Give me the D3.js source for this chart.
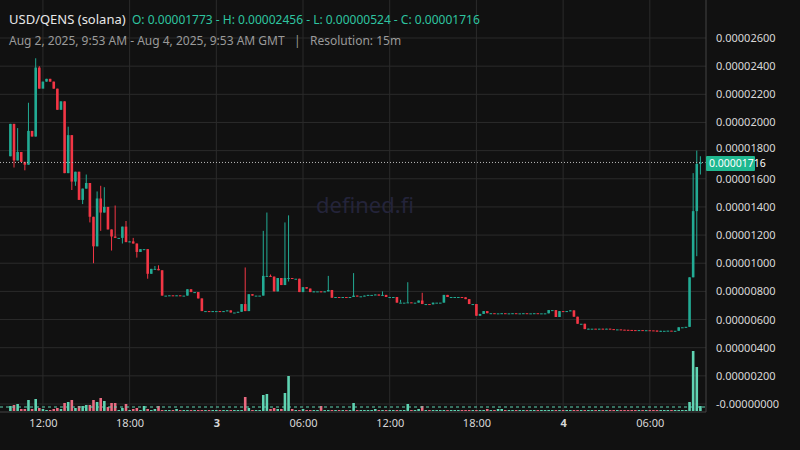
<!DOCTYPE html>
<html><head><meta charset="utf-8">
<script src="https://cdn.jsdelivr.net/npm/d3@7"></script>
<style>body{margin:0;background:#111111;}svg{display:block;font-family:"Noto Sans",sans-serif;}</style>
</head><body><div id="chart"></div>
<script>
// close prices in units of 1e-6, one per 15m candle, starting Aug 2 09:45 GMT
var firstOpen = 17.6;
var closes = [
 19.9,17.3,17.9,17.2,17.0,19.4,19.0,23.9,22.4,22.9, 23.1,22.9,22.4,20.9,21.5,16.4,19.1,15.8,16.5,14.5,
 15.3,15.7,13.3,11.2,14.6,13.6,14.0,12.4,11.9,11.8, 11.8,12.6,11.5,11.55,11.4,10.8,11.0,11.0,9.25,9.6,
 9.6,9.5,7.7,7.7,7.72,7.7,7.72,7.7,7.7,8.15, 7.95,7.95,7.5,6.6,6.6,6.55,6.6,6.6,6.55,6.6,
 6.65,6.5,6.5,6.55,7.1,6.6,7.8,7.7,7.7,7.7, 9.1,9.1,9.05,8.0,8.95,8.45,8.95,8.95,8.9,8.9,
 7.95,8.3,8.2,7.95,8.0,8.0,7.95,8.0,8.1,7.55, 7.6,7.55,7.6,7.58,7.6,7.7,7.65,7.65,7.7,7.75,
 7.75,7.78,7.7,7.75,7.6,7.6,7.6,7.2,7.2,7.2, 7.22,7.2,7.2,7.35,7.1,7.1,7.08,7.2,7.2,7.2,
 7.75,7.6,7.6,7.6,7.6,7.58,7.45,7.1,7.1,6.27, 6.4,6.6,6.45,6.45,6.44,6.44,6.45,6.44,6.44,6.45,
 6.44,6.44,6.45,6.44,6.44,6.45,6.44,6.44,6.44,6.67, 6.67,6.18,6.6,6.55,6.6,6.65,6.2,5.7,5.7,5.32,
 5.35,5.35,5.34,5.35,5.33,5.35,5.32,5.3,5.3,5.28, 5.27,5.26,5.25,5.24,5.25,5.23,5.24,5.23,5.22,5.14,
 5.2,5.2,5.21,5.2,5.2,5.45,5.45,5.48,9.0,13.7, 17.05,17.16
];
// notable wicks: [index, high, low]
var wicks = [
 [1,null,16.8],[2,19.6,null],[4,null,16.6],[5,21.4,null],[7,24.56,null],[8,24.0,null],[9,null,22.6],
 [16,19.7,null],[17,null,15.2],[18,null,15.5],[20,null,14.2],[21,16.3,null],[22,null,12.9],[23,null,10.0],
 [24,15.1,null],[25,15.5,12.3],[26,15.4,null],[28,null,10.9],[29,14.1,null],[31,null,11.4],[32,13.0,null],
 [34,11.8,null],[35,null,10.4],[38,null,8.9],[40,9.8,null],[41,9.85,null],[65,9.7,null],[70,12.3,null],
 [71,13.6,null],[72,9.2,null],[76,12.9,null],[77,13.4,8.7],[88,9.1,null],[95,9.3,null],[103,8.0,null],
 [108,7.4,null],[110,8.65,null],[114,7.9,null],[189,16.4,null],[190,18.0,10.5],[191,17.6,16.3]
];
var volumes = [
 5,6,7,2,2,11,2,12,3,2, 1,1,2,3,2,8,9,11,3,5, 5,6,6,11,9,13,10,4,8,8, 1,3,7,1,2,3,1,5,2,1,
 2,5,1,1,1,1,2,1,1,1, 1,1,1,1,1,1,1,1,1,1, 1,1,1,1,1,14,3,1,1,1, 16,17,2,3,2,2,18,35,2,1,
 1,2,1,1,1,1,5,1,1,1, 1,1,1,1,1,8,1,1,1,1, 1,2,1,1,1,1,1,1,1,1, 7,1,1,2,5,1,1,1,1,1,
 1,1,1,1,1,1,1,1,1,1, 1,1,2,1,1,2,2,1,1,1, 1,1,1,1,1,1,1,1,1,1, 1,1,1,1,1,1,1,1,1,1,
 1,1,1,1,1,1,1,1,1,1, 1,1,1,1,1,1,1,1,1,1, 1,1,1,1,1,1,1,1,9,60, 44,5
];
var priceTicks = [0,2,4,6,8,10,12,14,16,18,20,22,24,26];
var timeTicks = [
 {t:"2025-08-02T12:00:00Z",label:"12:00",bold:false},{t:"2025-08-02T18:00:00Z",label:"18:00",bold:false},
 {t:"2025-08-03T00:00:00Z",label:"3",bold:true},{t:"2025-08-03T06:00:00Z",label:"06:00",bold:false},
 {t:"2025-08-03T12:00:00Z",label:"12:00",bold:false},{t:"2025-08-03T18:00:00Z",label:"18:00",bold:false},
 {t:"2025-08-04T00:00:00Z",label:"4",bold:true},{t:"2025-08-04T06:00:00Z",label:"06:00",bold:false}
];
var startTime = new Date("2025-08-02T09:45:00Z");
var lastPrice = 17.16;

var W = 800, H = 450, plotR = 706;
var candles = closes.map(function(c, i){
	var o = i == 0 ? firstOpen : closes[i-1];
	return {t:new Date(+startTime + i*15*60000), o:o, c:c, h:Math.max(o,c), l:Math.min(o,c), v:volumes[i]};
});
wicks.forEach(function(w){
	if (w[1] != null) candles[w[0]].h = w[1];
	if (w[2] != null) candles[w[0]].l = w[2];
});

var x = d3.scaleTime()
	.domain([new Date("2025-08-02T09:45:00Z"), new Date("2025-08-04T09:45:00Z")])
	.range([10.4, 704]);
var y = d3.scaleLinear().domain([0, 26]).range([404, 38]);
var yv = d3.scaleLinear().domain([0, 60]).range([411, 351]);

var up = "#22ab94", down = "#f23645", upV = "#5fd3b2", downV = "#ea6a80";

var svg = d3.select("#chart").append("svg").attr("width", W).attr("height", H);
svg.append("rect").attr("width", W).attr("height", H).attr("fill", "#111111");

// grid
svg.append("g").selectAll("line").data(priceTicks).join("line")
	.attr("x1", 0).attr("x2", plotR).attr("y1", function(d){ return y(d); }).attr("y2", function(d){ return y(d); })
	.attr("stroke", "#2b2b2b");
svg.append("g").selectAll("line").data(timeTicks).join("line")
	.attr("x1", function(d){ return x(new Date(d.t)); }).attr("x2", function(d){ return x(new Date(d.t)); })
	.attr("y1", 0).attr("y2", 412).attr("stroke", "#2b2b2b");

svg.append("text").attr("x", 365).attr("y", 213).attr("text-anchor", "middle")
	.attr("font-size", 22).attr("fill", "#24243a").text("defined.fi");

// volume
var bw = 2.6;
svg.append("g").selectAll("rect").data(candles).join("rect")
	.attr("x", function(d){ return x(d.t) - bw/2; })
	.attr("y", function(d){ return yv(d.v); })
	.attr("width", bw)
	.attr("height", function(d){ return yv(0) - yv(d.v); })
	.attr("fill", function(d){ return d.c >= d.o ? upV : downV; });
svg.append("line").attr("x1", 0).attr("x2", plotR).attr("y1", 407).attr("y2", 407)
	.attr("stroke", upV).attr("stroke-dasharray", "3,3");

// candles
var g = svg.append("g");
g.selectAll("line").data(candles).join("line")
	.attr("x1", function(d){ return x(d.t); }).attr("x2", function(d){ return x(d.t); })
	.attr("y1", function(d){ return y(d.h); }).attr("y2", function(d){ return y(d.l); })
	.attr("stroke", function(d){ return d.c >= d.o ? up : down; }).attr("stroke-width", 1);
g.selectAll("rect").data(candles).join("rect")
	.attr("x", function(d){ return x(d.t) - bw/2; })
	.attr("y", function(d){ return y(Math.max(d.o, d.c)); })
	.attr("width", bw)
	.attr("height", function(d){ return Math.max(1, Math.abs(y(d.o) - y(d.c))); })
	.attr("fill", function(d){ return d.c >= d.o ? up : down; });

// last price line
svg.append("line").attr("x1", 0).attr("x2", plotR).attr("y1", y(lastPrice)).attr("y2", y(lastPrice))
	.attr("stroke", "#bbbbbb").attr("stroke-dasharray", "1,2");
svg.append("line").attr("x1", plotR).attr("x2", plotR).attr("y1", 0).attr("y2", 412).attr("stroke", "#444");
svg.append("line").attr("x1", 0).attr("x2", plotR).attr("y1", 412).attr("y2", 412).attr("stroke", "#444");

// right axis
var yAxis = d3.axisRight(y).tickValues(priceTicks).tickSize(0).tickPadding(10)
	.tickFormat(function(d){ return d == 0 ? "-0.00000000" : (d/1e6).toFixed(8); });
var ya = svg.append("g").attr("transform", "translate(" + plotR + ",0)").call(yAxis);
ya.select(".domain").remove();
ya.selectAll("text").attr("fill", "#d8d8d8").attr("font-size", 11).attr("font-family", "Noto Sans")
	.attr("dy", function(d){ return d == 18 ? "0.1em" : "0.32em"; });

svg.append("rect").attr("x", plotR).attr("y", y(lastPrice) - 6.5).attr("width", 49).attr("height", 15)
	.attr("fill", "#1fb890").attr("rx", 1);
svg.append("text").attr("x", plotR + 3).attr("y", y(lastPrice) + 4.5).attr("font-size", 10.5)
	.attr("fill", "#ffffff").text((lastPrice/1e6).toFixed(8));

// bottom axis
var xa = svg.append("g").attr("transform", "translate(0,412)")
	.call(d3.axisBottom(x).tickValues(timeTicks.map(function(d){ return new Date(d.t); })).tickSize(0).tickPadding(7)
		.tickFormat(function(d, i){ return timeTicks[i].label; }));
xa.select(".domain").remove();
xa.selectAll("text").attr("fill", "#d8d8d8").attr("font-size", 11).attr("font-family", "Noto Sans")
	.attr("font-weight", function(d, i){ return timeTicks[i].bold ? "bold" : "normal"; });

// header
var h1 = svg.append("text").attr("x", 9).attr("y", 24).attr("font-size", 13).attr("xml:space", "preserve");
h1.append("tspan").attr("fill", "#e8e8e8").text("USD/QENS (solana) ");
h1.append("tspan").attr("fill", "#2ec4a0").attr("font-size", 12).attr("dx", 3)
	.text("O: 0.00001773 - H: 0.00002456 - L: 0.00000524 - C: 0.00001716");
svg.append("text").attr("x", 9).attr("y", 45).attr("font-size", 12).attr("fill", "#9a9a9a")
	.attr("xml:space", "preserve")
	.text("Aug 2, 2025, 9:53 AM - Aug 4, 2025, 9:53 AM GMT   |   Resolution: 15m");
</script></body></html>
